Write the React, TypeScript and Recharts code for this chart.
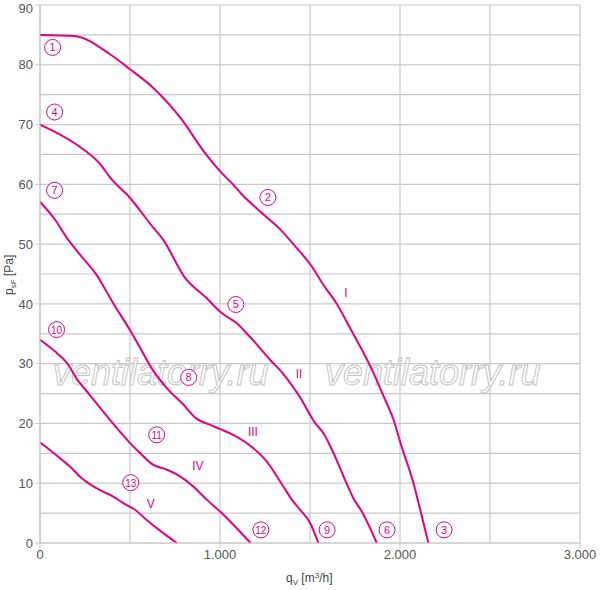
import { LineChart, Line, XAxis, YAxis, CartesianGrid, ReferenceDot, Customized } from "recharts"

const MAGENTA = "#e6007e"
const GRID = "#c8c8c8"

// flow q [m³/h] and pressure p [Pa]
const curveI = [
  { q: 0, p: 85 }, { q: 190, p: 84.8 }, { q: 387, p: 81.8 }, { q: 498, p: 79.3 },
  { q: 627, p: 76.2 }, { q: 786, p: 70.9 }, { q: 915, p: 65.3 }, { q: 1000, p: 62.2 },
  { q: 1072, p: 60 }, { q: 1122, p: 58.3 }, { q: 1221, p: 55.5 }, { q: 1333, p: 52.5 },
  { q: 1416, p: 49.7 }, { q: 1509, p: 46.3 }, { q: 1574, p: 43.2 }, { q: 1651, p: 39.9 },
  { q: 1722, p: 36 }, { q: 1778, p: 32.9 }, { q: 1852, p: 28.5 }, { q: 1908, p: 24.6 },
  { q: 1963, p: 20.7 }, { q: 2005, p: 16.5 }, { q: 2075, p: 10 }, { q: 2112, p: 5.6 },
  { q: 2158, p: 0 },
]
const curveII = [
  { q: 0, p: 70 }, { q: 201, p: 66.7 }, { q: 331, p: 63.5 }, { q: 396, p: 60.9 },
  { q: 498, p: 57.8 }, { q: 628, p: 52.8 }, { q: 683, p: 50.8 }, { q: 805, p: 44.4 },
  { q: 925, p: 41 }, { q: 1008, p: 38.5 }, { q: 1092, p: 36.8 }, { q: 1166, p: 34.5 },
  { q: 1277, p: 30.7 }, { q: 1351, p: 28.3 }, { q: 1444, p: 24.4 }, { q: 1528, p: 20.1 },
  { q: 1574, p: 18.4 }, { q: 1630, p: 15.1 }, { q: 1694, p: 10.6 }, { q: 1741, p: 7.5 },
  { q: 1787, p: 5.3 }, { q: 1871, p: 0 },
]
const curveIII = [
  { q: 0, p: 57.1 }, { q: 81, p: 54.2 }, { q: 155, p: 50.8 }, { q: 229, p: 48 },
  { q: 313, p: 44.9 }, { q: 405, p: 40.2 }, { q: 498, p: 35.7 }, { q: 572, p: 31.8 },
  { q: 619, p: 29.3 }, { q: 702, p: 26 }, { q: 795, p: 23.2 }, { q: 869, p: 20.8 },
  { q: 943, p: 19.8 }, { q: 1005, p: 19 }, { q: 1073, p: 18.1 }, { q: 1184, p: 15.9 },
  { q: 1258, p: 13.7 }, { q: 1351, p: 9.5 }, { q: 1398, p: 7.3 }, { q: 1444, p: 5.6 },
  { q: 1500, p: 3.4 }, { q: 1547, p: 0 },
]
const curveIV = [
  { q: 0, p: 34 }, { q: 81, p: 32.1 }, { q: 155, p: 29.9 }, { q: 201, p: 27.6 },
  { q: 276, p: 24.8 }, { q: 350, p: 22 }, { q: 433, p: 19 }, { q: 498, p: 16.8 },
  { q: 554, p: 15.1 }, { q: 628, p: 13.1 }, { q: 702, p: 12.3 }, { q: 776, p: 11.2 },
  { q: 850, p: 9.5 }, { q: 925, p: 7.3 }, { q: 999, p: 5.3 }, { q: 1073, p: 3.1 },
  { q: 1170, p: 0 },
]
const curveV = [
  { q: 0, p: 16.8 }, { q: 53, p: 15.6 }, { q: 118, p: 14 }, { q: 174, p: 12.6 },
  { q: 229, p: 10.9 }, { q: 294, p: 9.5 }, { q: 350, p: 8.6 }, { q: 405, p: 7.8 },
  { q: 461, p: 6.7 }, { q: 526, p: 5.6 }, { q: 591, p: 3.9 }, { q: 674, p: 1.9 },
  { q: 760, p: 0 },
]

const curves = [curveI, curveII, curveIII, curveIV, curveV]

// operating point markers (circled numbers)
const markerNames = ["1", "2", "3", "4", "5", "6", "7", "8", "9", "10", "11", "12", "13"]
const markerQ = [70, 1266, 2245, 81, 1088, 1928, 81, 826, 1595, 92, 648, 1227, 504]
const markerP = [82.9, 57.8, 2.2, 72.1, 39.9, 2.2, 59, 27.7, 2.2, 35.7, 18.1, 2.2, 10.1]

const curveNames = ["I", "II", "III", "IV", "V"]
const curveNameQ = [1700, 1439, 1183, 877, 615]
const curveNameP = [41.9, 28.3, 18.5, 12.8, 6.6]

const xTicks = [0, 1000, 2000, 3000]
const xGrid = [0, 500, 1000, 1500, 2000, 2500, 3000]
const yTicks = [0, 10, 20, 30, 40, 50, 60, 70, 80, 90]
const yGrid = [0, 5, 10, 15, 20, 25, 30, 35, 40, 45, 50, 55, 60, 65, 70, 75, 80, 85, 90]

const FONT = "'Liberation Sans', Arial, sans-serif"

const Watermark = () => (
  <g pointerEvents="none">
    {[53, 325].map((x) => (
      <text
        key={x}
        x={x}
        y={385}
        fontFamily={FONT}
        fontStyle="italic"
        fontSize={36}
        fill="#ffffff"
        fillOpacity={0.6}
        stroke="#c4c4c4"
        strokeWidth={1}
      >
        ventilatorry.ru
      </text>
    ))}
  </g>
)

const AxisTitles = () => (
  <g fontFamily={FONT} fontSize={12} fill="#444">
    <text x={286} y={582}>
      q<tspan fontSize={8} dy={3}>V</tspan>
      <tspan dy={-3}> [m</tspan>
      <tspan fontSize={8} dy={-4}>3</tspan>
      <tspan dy={4}>/h]</tspan>
    </text>
    <text transform="translate(13,295) rotate(-90)">
      p<tspan fontSize={8} dy={3}>sF</tspan>
      <tspan dy={-3}> [Pa]</tspan>
    </text>
  </g>
)

export default function App() {
  return (
    <div style={{ position: "absolute", left: 0, top: 0, width: 600, height: 590, background: "#fff" }}>
      <LineChart width={600} height={590} margin={{ top: 5, right: 20, left: 0, bottom: 17 }}>
        <CartesianGrid
          stroke={GRID}
          strokeWidth={1.2}
          verticalValues={xGrid}
          horizontalValues={yGrid}
        />
        <Customized component={Watermark} />
        <XAxis
          type="number"
          dataKey="q"
          domain={[0, 3000]}
          ticks={xTicks}
          height={30}
          tickFormatter={(v: number) => (v === 0 ? "0" : `${v / 1000}.000`)}
          stroke={GRID}
          tickSize={5}
          tick={{ fill: "#555", fontSize: 13, fontFamily: FONT }}
          allowDataOverflow
        />
        <YAxis
          type="number"
          domain={[0, 90]}
          ticks={yTicks}
          width={40}
          stroke={GRID}
          tickSize={5}
          tick={{ fill: "#555", fontSize: 13, fontFamily: FONT }}
        />
        {curves.map((c, i) => (
          <Line
            key={curveNames[i]}
            data={c}
            dataKey="p"
            type="monotone"
            stroke={MAGENTA}
            strokeWidth={2}
            dot={false}
            isAnimationActive={false}
          />
        ))}
        {markerNames.map((n, i) => (
          <ReferenceDot
            key={`m${n}`}
            x={markerQ[i]}
            y={markerP[i]}
            shape={(props: any) => (
              <g>
                <circle cx={props.cx} cy={props.cy} r={8} fill="#fff" stroke={MAGENTA} strokeWidth={1} />
                <text
                  x={props.cx}
                  y={props.cy + 4}
                  textAnchor="middle"
                  fontFamily={FONT}
                  fontSize={n.length > 1 ? 10 : 11}
                  fill={MAGENTA}
                >
                  {n}
                </text>
              </g>
            )}
          />
        ))}
        {curveNames.map((n, i) => (
          <ReferenceDot
            key={`c${n}`}
            x={curveNameQ[i]}
            y={curveNameP[i]}
            shape={(props: any) => (
              <text
                x={props.cx}
                y={props.cy + 4}
                textAnchor="middle"
                fontFamily={FONT}
                fontSize={12}
                fill={MAGENTA}
              >
                {n}
              </text>
            )}
          />
        ))}
        <Customized component={AxisTitles} />
      </LineChart>
    </div>
  )
}
